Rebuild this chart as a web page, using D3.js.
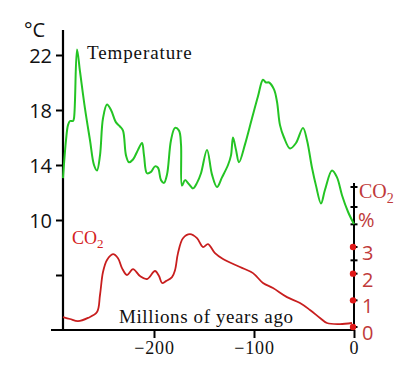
<!DOCTYPE html>
<html><head><meta charset="utf-8">
<script src="https://cdn.jsdelivr.net/npm/d3@7"></script>
<style>body{margin:0;background:#fff}svg{display:block}</style>
</head><body><svg id="c" width="400" height="369"></svg>
<script>
// Temperature (°C) vs age (millions of years, negative = ago)
const tempAge = [-291,-288,-286,-284,-281,-280,-277,-274,-269,-264,-260,-257,-254,-251,-247,-243,-238,-234,-231,-228,-225,-221,-216,-212,-210,-207,-203,-199,-196,-193,-190,-187,-183,-179,-175,-173,-172,-169,-165,-161,-157,-153,-147,-142,-137,-132,-126,-123,-121,-118,-115,-109,-102,-96,-91,-88,-85,-80,-77,-74,-70,-64,-58,-51,-47,-42,-38,-33,-29,-22,-17,-12,-6,0];
const tempVal = [13.05,15.8,16.9,17.2,17.2,17.4,22.4,20.8,18.1,15.8,14.0,13.6,14.7,17.4,18.4,18.0,17.1,16.8,16.5,14.7,14.2,14.4,15.1,15.6,14.7,13.4,13.5,13.9,13.8,12.9,12.7,13.3,15.8,16.7,16.5,15.5,12.5,12.9,12.6,12.3,12.7,13.4,15.1,13.3,12.4,13.1,14.0,14.7,16.0,15.1,14.2,15.5,17.4,19.0,20.2,20.0,20.0,19.5,18.6,16.9,16.0,15.2,15.6,16.7,15.8,13.8,12.5,11.2,12.2,13.6,13.1,11.8,10.6,9.7];
// CO2 (%) vs age
const co2Age = [-291,-284,-276,-266,-257,-254,-251,-247,-241,-236,-232,-227,-221,-214,-207,-199,-195,-192,-188,-182,-179,-176,-171,-164,-157,-151,-146,-139,-131,-114,-101,-91,-81,-67,-54,-44,-34,-27,-14,-2];
const co2Val = [0.37,0.30,0.22,0.34,0.56,1.20,2.06,2.51,2.73,2.58,2.21,1.95,2.17,1.91,1.80,2.10,1.91,1.65,1.72,1.87,2.13,2.77,3.33,3.48,3.33,3.00,3.11,2.77,2.55,2.25,2.02,1.65,1.46,1.12,0.90,0.64,0.34,0.15,0.11,0.15];
const xTicks = [-200,-100,0];
const xTickLabels = ["\u2212200","\u2212100","0"];
const tempTicks = [6,10,14,18,22];
const tempTickLabels = ["","10","14","18","22"];
const co2Ticks = [0,1,2,3];
const co2MinorTicks = [2.5,3.85,4.5,5.25];

const svg = d3.select("#c");
const x = d3.scaleLinear().domain([-291,0]).range([63,354]);
const yT = d3.scaleLinear().domain([2,22]).range([330,55]);
const yC = d3.scaleLinear().domain([0,3]).range([327,247]);

const green = "#24c424", red = "#c81e1e", labRed = "#c03a3a";
const serif = "'Liberation Serif','Times New Roman',serif";
const sans = "'Open Sans','Noto Sans',sans-serif";

// x axis line
svg.append("line").attr("x1",51).attr("x2",354).attr("y1",330).attr("y2",330)
  .attr("stroke","#000").attr("stroke-width",2.2);
// left axis line
svg.append("line").attr("x1",63).attr("x2",63).attr("y1",30).attr("y2",331)
  .attr("stroke","#000").attr("stroke-width",2.2);
// right axis line
svg.append("line").attr("x1",354).attr("x2",354).attr("y1",183).attr("y2",331)
  .attr("stroke","#000").attr("stroke-width",2);

// bottom ticks
const xa = svg.append("g").attr("transform","translate(0,330)")
  .call(d3.axisBottom(x).tickValues(xTicks).tickSize(8).tickFormat((d,i)=>xTickLabels[i]));
xa.select(".domain").remove();
xa.selectAll(".tick line").attr("stroke","#000").attr("stroke-width",2);
xa.selectAll(".tick text").attr("font-family",serif).attr("font-size",18)
  .attr("letter-spacing",0.8).attr("fill","#111").attr("y",11).attr("dy","0.71em");

// left ticks
const ya = svg.append("g").attr("transform","translate(63,0)")
  .call(d3.axisLeft(yT).tickValues(tempTicks).tickSize(7).tickFormat((d,i)=>tempTickLabels[i]));
ya.select(".domain").remove();
ya.selectAll(".tick line").attr("stroke","#000").attr("stroke-width",2);
ya.selectAll(".tick text").attr("font-family",sans).attr("font-size",20)
  .attr("fill","#111").attr("x",-11).attr("dy","0.38em");
svg.append("text").attr("x",24).attr("y",37).attr("font-family",sans).attr("font-size",20)
  .attr("fill","#111").text("°C");

// right axis minor ticks
svg.selectAll(".mt").data(co2MinorTicks.concat(co2Ticks)).enter().append("line")
  .attr("x1",350.5).attr("x2",357.5).attr("y1",d=>yC(d)).attr("y2",d=>yC(d))
  .attr("stroke","#000").attr("stroke-width",2);
svg.selectAll(".dot").data(co2Ticks).enter().append("circle")
  .attr("cx",353).attr("cy",d=>yC(d)).attr("r",3.2).attr("fill","#e01818");
svg.selectAll(".cl").data(co2Ticks).enter().append("text")
  .attr("x",362).attr("y",d=>yC(d)+13).attr("font-family",sans).attr("font-size",20)
  .attr("fill",labRed).text(d=>d);
const rc = svg.append("text").attr("x",359).attr("y",198).attr("font-family",serif)
  .attr("font-size",20).attr("fill",labRed);
rc.append("tspan").text("CO");
rc.append("tspan").attr("font-size",14).attr("dy",5).text("2");
svg.append("text").attr("x",358).attr("y",227).attr("font-family",sans).attr("font-size",20)
  .attr("fill",labRed).text("%");

// curves
const tempData = tempAge.map((a,i)=>[a,tempVal[i]]);
const co2Data = co2Age.map((a,i)=>[a,co2Val[i]]);
svg.append("path").datum(tempData)
  .attr("d",d3.line().x(d=>x(d[0])).y(d=>yT(d[1])).curve(d3.curveCatmullRom.alpha(0.5)))
  .attr("fill","none").attr("stroke",green).attr("stroke-width",2);
svg.append("path").datum(co2Data)
  .attr("d",d3.line().x(d=>x(d[0])).y(d=>yC(d[1])).curve(d3.curveCatmullRom.alpha(0.5)))
  .attr("fill","none").attr("stroke",red).attr("stroke-width",1.8);

// labels
svg.append("text").attr("x",87).attr("y",59).attr("font-family",serif).attr("font-size",19)
  .attr("letter-spacing",0.9).attr("fill","#111").text("Temperature");
svg.append("text").attr("x",119).attr("y",323).attr("font-family",serif).attr("font-size",19)
  .attr("letter-spacing",0.6).attr("fill","#111").text("Millions of years ago");
const lc = svg.append("text").attr("x",72).attr("y",244).attr("font-family",serif)
  .attr("font-size",18).attr("fill","#d42020");
lc.append("tspan").text("CO");
lc.append("tspan").attr("font-size",13).attr("dy",4).text("2");
</script></body></html>
